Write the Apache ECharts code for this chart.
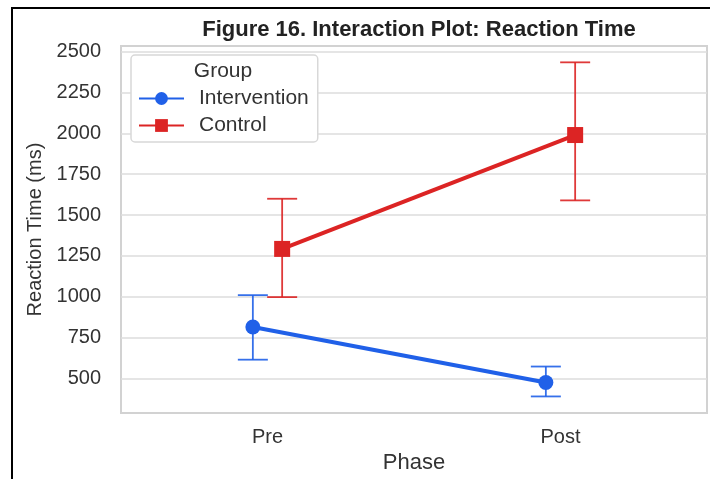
<!DOCTYPE html>
<html lang="en">

<head>
    <meta charset="UTF-8">
    <title>Interaction Plot: Reaction Time</title>
    <script src="https://cdn.jsdelivr.net/npm/echarts@6/dist/echarts.min.js"></script>
    <style>
        html, body { margin: 0; padding: 0; background: #fff; }
        #frame {
            position: absolute; left: 11px; top: 7px; width: 720px; height: 500px;
            border-top: 2px solid #000; border-left: 2px solid #000;
        }
        #chart { position: absolute; left: 0; top: 0; width: 710px; height: 479px; }
    </style>
</head>

<body>
    <div id="frame"></div>
    <div id="chart"></div>

    <script>
    // data
    const phases = ['Pre', 'Post'];
    const groups = ['Intervention', 'Control'];
    const interventionMean = [815, 475];
    const interventionLow = [615, 390];
    const interventionHigh = [1010, 573];
    const controlMean = [1293, 1990];
    const controlLow = [998, 1590];
    const controlHigh = [1600, 2435];
    const yTicks = [500, 750, 1000, 1250, 1500, 1750, 2000, 2250, 2500];

    const blue = '#2060e8';
    const red = '#dc2424';
    const dodge = 0.05;
    const font = 'Liberation Sans, Arial, sans-serif';

    function points(values, shift) {
        return values.map((v, i) => [i + shift, v]);
    }
    function bars(low, high, shift) {
        return low.map((v, i) => [i + shift, v, high[i]]);
    }

    function errorBar(color) {
        return function (params, api) {
            const x = api.value(0);
            const top = api.coord([x, api.value(2)]);
            const bottom = api.coord([x, api.value(1)]);
            const half = 15;
            const style = { stroke: color, lineWidth: 1.8, opacity: 0.9 };
            return {
                type: 'group',
                children: [
                    { type: 'line', shape: { x1: top[0], y1: top[1], x2: bottom[0], y2: bottom[1] }, style: style },
                    { type: 'line', shape: { x1: top[0] - half, y1: top[1], x2: top[0] + half, y2: top[1] }, style: style },
                    { type: 'line', shape: { x1: bottom[0] - half, y1: bottom[1], x2: bottom[0] + half, y2: bottom[1] }, style: style }
                ]
            };
        };
    }

    var chart = echarts.init(document.getElementById('chart'), null, { renderer: 'canvas' });

    var option = {
        animation: false,
        textStyle: { fontFamily: font },
        title: {
            text: 'Figure 16. Interaction Plot: Reaction Time',
            left: 414,
            textAlign: 'center',
            top: 14,
            textStyle: { fontSize: 22, fontWeight: 'bold', color: '#222', fontFamily: font }
        },
        grid: {
            left: 121, right: 3, top: 46, bottom: 65,
            show: true, borderColor: '#d2d2d2', borderWidth: 2
        },
        legend: {
            data: groups,
            orient: 'vertical',
            left: 131,
            top: 55,
            padding: [33, 9, 6, 7],
            itemGap: 6,
            itemWidth: 45,
            itemHeight: 16,
            backgroundColor: '#fff',
            borderColor: '#d8d8d8',
            borderWidth: 1.5,
            borderRadius: 4,
            textStyle: { fontSize: 21, color: '#333', padding: [0, 0, 0, 10], fontFamily: font }
        },
        graphic: [{
            type: 'text',
            x: 223,
            y: 71,
            z: 100,
            style: {
                text: 'Group', fontSize: 21, fill: '#333', fontFamily: font,
                textAlign: 'center', textVerticalAlign: 'middle'
            }
        }],
        xAxis: [{
            type: 'category',
            data: phases,
            axisLine: { show: false },
            axisTick: { show: false },
            splitLine: { show: false },
            axisLabel: { fontSize: 20, color: '#333', margin: 14 },
            name: 'Phase',
            nameLocation: 'middle',
            nameGap: 37,
            nameTextStyle: { fontSize: 22, color: '#333' }
        }, {
            type: 'value',
            min: -0.5,
            max: 1.5,
            show: false
        }],
        yAxis: {
            type: 'value',
            min: 288,
            max: 2535,
            axisLine: { show: false },
            axisTick: { show: false, customValues: yTicks },
            axisLabel: {
                fontSize: 20, color: '#333', margin: 20, customValues: yTicks,
                formatter: (v) => String(v)
            },
            splitLine: { show: true, lineStyle: { color: '#dcdcdc', width: 1.5 } },
            name: 'Reaction Time (ms)',
            nameLocation: 'middle',
            nameGap: 75,
            nameTextStyle: { fontSize: 20, color: '#333' }
        },
        series: [{
            type: 'custom',
            xAxisIndex: 1,
            renderItem: errorBar(blue),
            encode: { x: 0, y: [1, 2] },
            data: bars(interventionLow, interventionHigh, -dodge),
            z: 2
        }, {
            type: 'custom',
            xAxisIndex: 1,
            renderItem: errorBar(red),
            encode: { x: 0, y: [1, 2] },
            data: bars(controlLow, controlHigh, dodge),
            z: 2
        }, {
            name: 'Intervention',
            type: 'line',
            xAxisIndex: 1,
            data: points(interventionMean, -dodge),
            symbol: 'circle',
            symbolSize: 15,
            itemStyle: { color: blue },
            lineStyle: { color: blue, width: 4 },
            z: 3
        }, {
            name: 'Control',
            type: 'line',
            xAxisIndex: 1,
            data: points(controlMean, dodge),
            symbol: 'rect',
            symbolSize: 16,
            itemStyle: { color: red },
            lineStyle: { color: red, width: 4 },
            z: 3
        }]
    };
    option && chart.setOption(option);
    </script>
</body>

</html>
